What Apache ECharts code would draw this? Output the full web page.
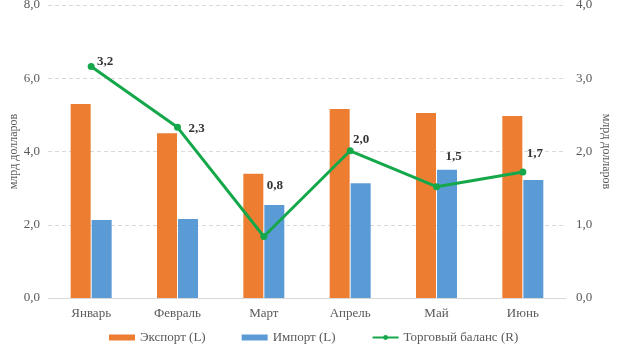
<!DOCTYPE html>
<html>
<head>
<meta charset="utf-8">
<script src="https://cdn.jsdelivr.net/npm/echarts@6/dist/echarts.min.js"></script>
<style>
  html, body { margin: 0; padding: 0; background: #fff; }
  #main { width: 617px; height: 352px; }
</style>
</head>
<body>
<div id="main"></div>
<script>
const months = ['Январь', 'Февраль', 'Март', 'Апрель', 'Май', 'Июнь'];
const exportVals = [5.30, 4.50, 3.39, 5.16, 5.05, 4.97];
const importVals = [2.13, 2.16, 2.54, 3.13, 3.50, 3.22];
const balanceVals = [3.16, 2.33, 0.84, 2.01, 1.52, 1.72];

// hand-placed data labels, as in the original
const labelShift = [[14, -5], [19, 1], [11, -51], [11, -11], [17, -30], [12, -18]];

const serif = '"Liberation Serif", "DejaVu Serif", serif';
const fmt = v => v.toFixed(1).replace('.', ',');

const chart = echarts.init(document.getElementById('main'));

chart.setOption({
    animation: false,
    textStyle: { fontFamily: serif },
    grid: { left: 48, right: 51, top: 5, bottom: 54, outerBoundsMode: 'none' },
    legend: {
        bottom: 3,
        left: 104,
        itemWidth: 26,
        itemHeight: 6,
        itemGap: 36,
        textStyle: { fontFamily: serif, fontSize: 13, color: '#595959' },
        data: [
            { name: 'Экспорт (L)', icon: 'rect' },
            { name: 'Импорт (L)', icon: 'rect' },
            { name: 'Торговый баланс (R)' }
        ]
    },
    xAxis: {
        type: 'category',
        data: months,
        axisLine: { lineStyle: { color: '#d9d9d9' } },
        axisTick: { show: false },
        axisLabel: { fontFamily: serif, fontSize: 13, color: '#595959', margin: 9 }
    },
    yAxis: [
        {
            type: 'value',
            min: 0, max: 8, interval: 2,
            name: 'млрд долларов',
            nameLocation: 'middle',
            nameRotate: 90,
            nameGap: 28,
            nameMoveOverlap: false,
            nameTextStyle: { fontFamily: serif, fontSize: 12, color: '#595959' },
            axisLabel: { formatter: fmt, fontFamily: serif, fontSize: 13, color: '#595959', margin: 8 },
            splitLine: { lineStyle: { color: '#d9d9d9', type: [4, 3] } }
        },
        {
            type: 'value',
            min: 0, max: 4, interval: 1,
            name: 'млрд долларов',
            nameLocation: 'middle',
            nameRotate: -90,
            nameGap: 34,
            nameMoveOverlap: false,
            nameTextStyle: { fontFamily: serif, fontSize: 12, color: '#595959' },
            axisLabel: { formatter: fmt, fontFamily: serif, fontSize: 13, color: '#595959', margin: 10 },
            splitLine: { show: false }
        }
    ],
    series: [
        {
            name: 'Экспорт (L)',
            type: 'bar',
            data: exportVals,
            barWidth: 20,
            barGap: '5%',
            itemStyle: { color: '#ED7D31' }
        },
        {
            name: 'Импорт (L)',
            type: 'bar',
            data: importVals,
            barWidth: 20,
            itemStyle: { color: '#5B9BD5' }
        },
        {
            name: 'Торговый баланс (R)',
            type: 'line',
            yAxisIndex: 1,
            data: balanceVals.map((v, i) => ({
                value: v,
                label: { offset: labelShift[i] }
            })),
            symbol: 'circle',
            symbolSize: 7,
            lineStyle: { color: '#14A84B', width: 3 },
            itemStyle: { color: '#14A84B' },
            label: {
                show: true,
                position: 'inside',
                formatter: p => fmt(p.value),
                fontFamily: serif,
                fontSize: 13,
                fontWeight: 'bold',
                color: '#333'
            },
            z: 5
        }
    ]
});
</script>
</body>
</html>
